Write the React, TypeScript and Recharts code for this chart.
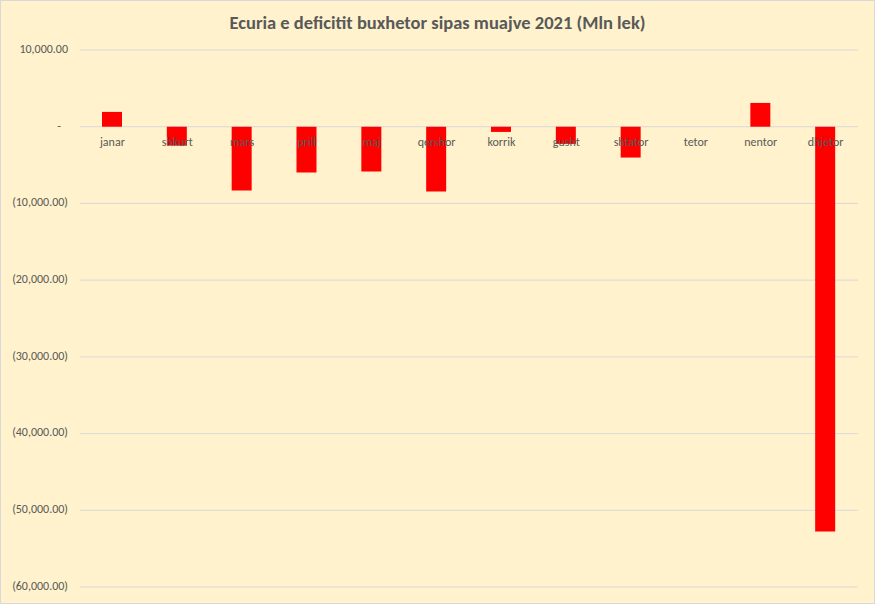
import React from 'react';
import { ComposedChart, Bar, Scatter, XAxis, YAxis, CartesianGrid } from 'recharts';

const months = ['janar', 'shkurt', 'mars', 'prill', 'maj', 'qershor', 'korrik', 'gusht', 'shtator', 'tetor', 'nentor', 'dhjetor'];
const deficit = [1930, -2460, -8320, -5980, -5850, -8450, -680, -2240, -4020, 0, 3100, -52750];
const yTicks = [10000, 0, -10000, -20000, -30000, -40000, -50000, -60000];
const title = 'Ecuria e deficitit buxhetor sipas muajve 2021 (Mln lek)';

const data = months.map((m, i) => ({ month: m, value: deficit[i], base: 0 }));

const FONT = "Carlito, 'Liberation Sans Narrow', 'Open Sans', sans-serif";
const TEXT = '#595959';

const fmt = (v: number) => {
  if (v === 0) return '-';
  const s = Math.abs(v).toLocaleString('en-US', { minimumFractionDigits: 2, maximumFractionDigits: 2 });
  return v < 0 ? `(${s})` : s;
};

const YTick = (props: any) => {
  const { x, y, payload } = props;
  const v = payload.value as number;
  return (
    <text x={v === 0 ? x - 9 : x - 2} y={y} textAnchor="end" dominantBaseline="middle" fill={TEXT} fontSize={12} fontFamily={FONT}>
      {fmt(v)}
    </text>
  );
};

const CatLabel = (props: any) => {
  const { cx, cy, payload } = props;
  return (
    <text x={cx} y={Number(cy) + 16} textAnchor="middle" dominantBaseline="middle" fill={TEXT} fontSize={12} fontFamily={FONT}>
      {payload.month}
    </text>
  );
};

export default function App() {
  return (
    <div style={{ position: 'absolute', left: 0, top: 0, width: 875, height: 604, boxSizing: 'border-box', border: '1px solid #D9D9D9', background: '#FFF2CC' }}>
      <div style={{ position: 'absolute', left: 0, top: 10, width: 873, textAlign: 'center', fontFamily: FONT, fontWeight: 'bold', fontSize: 18.5, color: TEXT }}>
        {title}
      </div>
      <ComposedChart width={873} height={602} data={data} margin={{ top: 49, right: 16, bottom: 16, left: 0 }}>
        <CartesianGrid vertical={false} stroke="#D9D9D9" />
        <XAxis dataKey="month" hide />
        <YAxis
          width={79}
          domain={[-60000, 10000]}
          ticks={yTicks}
          axisLine={false}
          tickLine={false}
          tickMargin={4}
          tick={<YTick />}
          interval={0}
        />
        <Scatter dataKey="base" shape={<CatLabel />} isAnimationActive={false} />
        <Bar dataKey="value" fill="#FF0000" barSize={20} isAnimationActive={false} />
      </ComposedChart>
    </div>
  );
}
